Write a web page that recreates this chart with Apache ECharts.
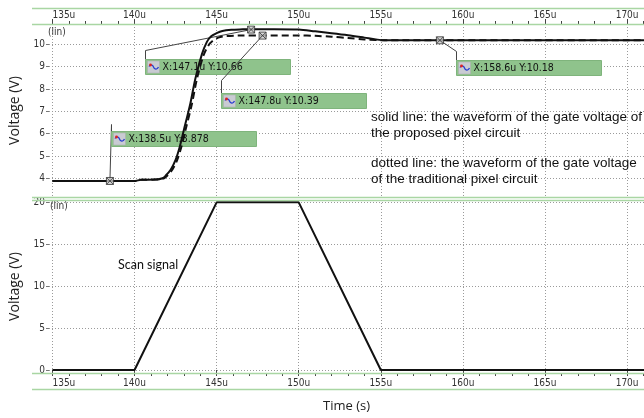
<!DOCTYPE html>
<html>
<head>
<meta charset="utf-8">
<script src="https://cdn.jsdelivr.net/npm/echarts@6/dist/echarts.min.js"></script>
<style>
  html, body { margin: 0; padding: 0; background: #fff; }
  #main { width: 644px; height: 418px; }
</style>
</head>
<body>
<div id="main"></div>
<script>
// time in microseconds (u)
const xTicks = [135, 140, 145, 150, 155, 160, 165, 170];
const xMinorTicks = [135, 136, 137, 138, 139, 140, 141, 142, 143, 144, 145, 146, 147, 148, 149, 150,
  151, 152, 153, 154, 155, 156, 157, 158, 159, 160, 161, 162, 163, 164, 165, 166, 167, 168, 169, 170, 171];
const gateTicks = [4, 5, 6, 7, 8, 9, 10];
const scanTicks = [0, 5, 10, 15, 20];

// gate voltage, proposed pixel circuit (solid)
const proposedTime = [135, 140.0, 140.4, 141.3, 141.7, 141.9, 142.2, 142.5, 142.75, 143.0, 143.4, 143.7,
  144.1, 144.4, 144.65, 145.0, 145.35, 145.9, 146.6, 147.1, 148.5, 150.0, 151.0, 152.0, 153.0, 154.0,
  154.7, 155.2, 171.03];
const proposedV = [3.878, 3.878, 3.93, 3.94, 4.0, 4.12, 4.38, 4.82, 5.4, 6.15, 7.35, 8.45,
  9.55, 10.1, 10.35, 10.5, 10.6, 10.65, 10.67, 10.68, 10.68, 10.66, 10.58, 10.5, 10.41, 10.3,
  10.22, 10.18, 10.18];

// gate voltage, traditional pixel circuit (dotted)
const traditionalTime = [135, 140.0, 140.4, 141.3, 141.8, 142.0, 142.3, 142.6, 142.85, 143.1, 143.5, 143.8,
  144.2, 144.5, 144.75, 145.1, 145.6, 146.3, 147.8, 150.0, 151.0, 152.0, 153.0, 154.0, 154.7, 155.2, 171.03];
const traditionalV = [3.878, 3.878, 3.93, 3.94, 4.0, 4.12, 4.38, 4.82, 5.4, 6.15, 7.35, 8.45,
  9.5, 9.95, 10.15, 10.3, 10.37, 10.39, 10.4, 10.4, 10.38, 10.34, 10.28, 10.22, 10.19, 10.18, 10.18];

// scan signal
const scanTime = [135, 140, 145, 150, 155, 171.03];
const scanV = [0, 0, 20, 20, 0, 0];

// cursor markers
const markerTime = [138.5, 147.1, 147.8, 158.6];
const markerV = [3.878, 10.66, 10.39, 10.18];

// where each cursor box sits relative to its marker (px)
const boxOffset = [[1, -50], [-106, 29], [-42, 57], [16, 20]];
const boxElbow = [-7, -9, -13, -9];

const zip = (a, b) => a.map((v, i) => [v, b[i]]);
const tickFont = 'DejaVu Sans Condensed, DejaVu Sans';
const dotted = { color: '#9a9a9a', type: [1, 2], width: 1 };

const majorX = (gridIndex, position, margin) => ({
  type: 'value', gridIndex, position, min: 134.79, max: 171.03,
  axisLine: { show: false },
  axisTick: { show: true, customValues: xTicks, length: 5, lineStyle: { color: '#444' } },
  axisLabel: {
    customValues: xTicks, formatter: v => v + 'u', alignMinLabel: 'left',
    color: '#333', fontSize: 10, fontFamily: tickFont, margin
  },
  splitLine: { show: true, lineStyle: dotted }
});
const minorX = (gridIndex, position) => ({
  type: 'value', gridIndex, position, min: 134.79, max: 171.03,
  axisLine: { show: false },
  axisTick: { show: true, customValues: xMinorTicks, length: 3, lineStyle: { color: '#444' } },
  axisLabel: { show: false },
  splitLine: { show: false }
});

const option = {
  animation: false,
  backgroundColor: '#fff',
  grid: [
    { left: 46, right: 0, top: 24, height: 173 },
    { left: 46, right: 0, top: 200, height: 173 }
  ],
  xAxis: [
    majorX(0, 'top', 4),
    minorX(0, 'top'),
    Object.assign(majorX(1, 'bottom', 5), {
      name: 'Time (s)', nameLocation: 'middle', nameGap: 27,
      nameTextStyle: { fontFamily: 'Open Sans', fontSize: 13, color: '#222' }
    }),
    minorX(1, 'bottom')
  ],
  yAxis: [
    {
      type: 'value', gridIndex: 0, min: 3.16, max: 10.91,
      name: 'Voltage (V)', nameLocation: 'middle', nameGap: 27, nameRotate: 90,
      nameTextStyle: { fontFamily: 'Open Sans', fontSize: 14, color: '#222' },
      axisLine: { show: false },
      axisTick: { show: true, customValues: gateTicks, length: 3, lineStyle: { color: '#777' } },
      axisLabel: { customValues: gateTicks, color: '#333', fontSize: 10, fontFamily: tickFont, margin: 4 },
      splitLine: { show: true, lineStyle: dotted }
    },
    {
      type: 'value', gridIndex: 1, min: -0.36, max: 20.28,
      name: 'Voltage (V)', nameLocation: 'middle', nameGap: 27, nameRotate: 90,
      nameTextStyle: { fontFamily: 'Open Sans', fontSize: 14, color: '#222' },
      axisLine: { show: false },
      axisTick: { show: true, customValues: scanTicks, length: 3, lineStyle: { color: '#777' } },
      axisLabel: { customValues: scanTicks, color: '#333', fontSize: 10, fontFamily: tickFont, margin: 4 },
      splitLine: { show: true, lineStyle: dotted }
    }
  ],
  series: [
    {
      name: 'traditional', type: 'line', xAxisIndex: 0, yAxisIndex: 0, z: 3,
      data: zip(traditionalTime, traditionalV), showSymbol: false, smooth: 0.3,
      lineStyle: { color: '#111', width: 2, type: [7, 4] }
    },
    {
      name: 'proposed', type: 'line', xAxisIndex: 0, yAxisIndex: 0, z: 3,
      data: zip(proposedTime, proposedV), showSymbol: false, smooth: 0.3,
      lineStyle: { color: '#111', width: 2 }
    },
    {
      name: 'cursor', type: 'scatter', xAxisIndex: 0, yAxisIndex: 0,
      data: zip(markerTime, markerV), symbolSize: 7,
      symbol: 'path://M0,0L10,0L10,10L0,10ZM0,0L10,10M10,0L0,10',
      itemStyle: { color: '#ccc', borderColor: '#333', borderWidth: 1 }, z: 5
    },
    {
      name: 'scan', type: 'line', xAxisIndex: 2, yAxisIndex: 1, z: 3,
      data: zip(scanTime, scanV), showSymbol: false,
      lineStyle: { color: '#111', width: 2 }
    }
  ]
};

const chart = echarts.init(document.getElementById('main'));
chart.setOption(option);

const green = '#a9d6a3';
const frameLine = y => ({
  type: 'line', shape: { x1: 32, y1: y, x2: 644, y2: y },
  style: { stroke: green, lineWidth: 1.5 }, z: 10
});

// cursor read-outs sit under the curves, above the grid
const cursorBoxes = [];
markerTime.forEach((t, i) => {
  const p = chart.convertToPixel({ xAxisIndex: 0, yAxisIndex: 0 }, [t, markerV[i]]);
  const bx = Math.round(p[0] + boxOffset[i][0]) + 0.5;
  const by = Math.round(p[1] + boxOffset[i][1]) + 0.5;
  cursorBoxes.push({
    type: 'polyline', z: 1,
    shape: { points: [[p[0], p[1]], [bx, by + boxElbow[i]], [bx, by]] },
    style: { stroke: '#444', lineWidth: 1, fill: null }
  });
  cursorBoxes.push({
    type: 'group', x: bx, y: by, z: 1,
    children: [
      { type: 'rect', z: 1, shape: { x: 0, y: 0, width: 145, height: 15 },
        style: { fill: '#8fc38c', stroke: '#7fb47c', lineWidth: 1 } },
      { type: 'rect', z: 1, shape: { x: 2, y: 1.5, width: 12, height: 12 },
        style: { fill: '#c9cbd3', stroke: '#aaa', lineWidth: 0.5 } },
      { type: 'polyline', z: 1, shape: { points: [[3.5, 7], [5, 5.5], [7, 6], [9, 9], [11, 9.5], [13, 7.5]], smooth: 0.5 },
        style: { stroke: '#2a3fd0', lineWidth: 1.3, fill: null } },
      { type: 'circle', z: 1, shape: { cx: 5, cy: 5.5, r: 1.4 }, style: { fill: '#e02020' } },
      { type: 'text', z: 1, x: 17, y: 7.5,
        style: { text: 'X:' + t + 'u Y:' + markerV[i], fill: '#111', font: '10.5px ' + tickFont, verticalAlign: 'middle' } }
    ]
  });
});

const noteFont = '13.5px "Liberation Sans", Arial, sans-serif';
chart.setOption({
  graphic: [
    frameLine(8.5), frameLine(24.5), frameLine(197.5), frameLine(200.5), frameLine(373.5), frameLine(389.5),
    { type: 'text', x: 48, y: 32, style: { text: '(lin)', fill: '#333', font: '10px ' + tickFont, verticalAlign: 'middle' } },
    { type: 'text', x: 50, y: 206, style: { text: '(lin)', fill: '#333', font: '10px ' + tickFont, verticalAlign: 'middle' } },
    { type: 'text', x: 371, y: 117, style: { text: 'solid line: the waveform of the gate voltage of', fill: '#111', font: noteFont, verticalAlign: 'middle' } },
    { type: 'text', x: 371, y: 133, style: { text: 'the proposed pixel circuit', fill: '#111', font: noteFont, verticalAlign: 'middle' } },
    { type: 'text', x: 371, y: 163, style: { text: 'dotted line: the waveform of the gate voltage', fill: '#111', font: noteFont, verticalAlign: 'middle' } },
    { type: 'text', x: 371, y: 179, style: { text: 'of the traditional pixel circuit', fill: '#111', font: noteFont, verticalAlign: 'middle' } },
    { type: 'text', x: 118, y: 265, style: { text: 'Scan signal', fill: '#111', font: '12.5px Lato, "Open Sans", sans-serif', verticalAlign: 'middle' } }
  ].concat(cursorBoxes)
});
</script>
</body>
</html>
